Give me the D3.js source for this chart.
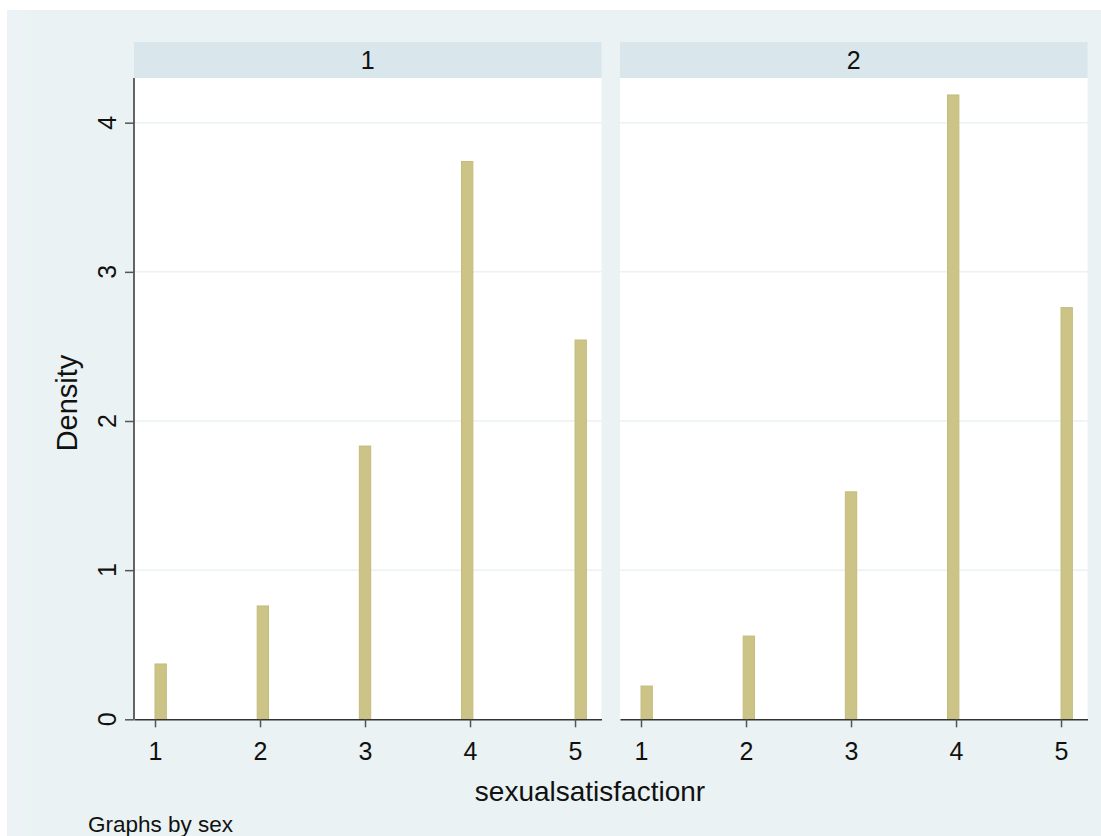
<!DOCTYPE html>
<html>
    <head>
        <meta charset="utf-8">
        <script src="https://d3js.org/d3.v7.min.js"></script>
        <style>
            body {
                margin: 0;
                background: #ffffff;
                font-family: "Liberation Sans", Arial, sans-serif;
            }
            .tick line {
                stroke: #555;
                stroke-width: 1.5;
            }
            .domain {
                stroke: #333;
                stroke-width: 1.5;
            }
            .lab {
                fill: #111;
            }
        </style>
    </head>
    <body>
        <script>
            // DATA //
            var panels = ["1", "2"];
            var xValues = [1, 2, 3, 4, 5];
            var binStart = [1.0, 1.973, 2.946, 3.919, 5.0];
            var binWidth = 0.108;
            var density1 = [0.371, 0.76, 1.832, 3.74, 2.543];
            var density2 = [0.223, 0.558, 1.525, 4.186, 2.76];
            var densities = [density1, density2];
            var yTicks = [0, 1, 2, 3, 4];
            var gridTicks = [1, 2, 3, 4];
            // END OF DATA //

            var W = 1101, H = 836;
            var panelLeft = [134, 620];
            var panelWidth = 467.5;
            var stripTop = 42, plotTop = 78, plotBottom = 719.3;

            var canvas = d3.select('body').append('svg')
                .attr('width', W)
                .attr('height', H);

            // outer background
            canvas.append('rect')
                .attr('x', 7).attr('y', 10)
                .attr('width', W - 7).attr('height', H - 10)
                .attr('fill', '#eaf2f3');
            canvas.append('rect')
                .attr('x', 7).attr('y', 10)
                .attr('width', 18).attr('height', H - 10)
                .attr('fill', '#ecf2f6');

            var y = d3.scaleLinear()
                .domain([0, 4.3])
                .range([plotBottom, plotBottom - 4.3 * 149.15]);

            panels.forEach(function(name, p) {
                var left = panelLeft[p];
                var x = d3.scaleLinear()
                    .domain([0.8, 5.252])
                    .range([left, left + panelWidth]);

                var g = canvas.append('g');

                // strip
                g.append('rect')
                    .attr('x', left).attr('y', stripTop)
                    .attr('width', panelWidth).attr('height', plotTop - stripTop)
                    .attr('fill', '#d9e6eb');
                g.append('text')
                    .attr('class', 'lab')
                    .attr('x', left + panelWidth / 2)
                    .attr('y', 69)
                    .attr('text-anchor', 'middle')
                    .attr('font-size', 25)
                    .text(name);

                // plot area
                g.append('rect')
                    .attr('x', left).attr('y', plotTop)
                    .attr('width', panelWidth).attr('height', plotBottom - plotTop)
                    .attr('fill', '#ffffff');

                // grid
                g.selectAll('.grid')
                    .data(gridTicks)
                    .enter()
                    .append('line')
                    .attr('class', 'grid')
                    .attr('x1', left).attr('x2', left + panelWidth)
                    .attr('y1', function(d) { return y(d); })
                    .attr('y2', function(d) { return y(d); })
                    .attr('stroke', '#eaf2f3')
                    .attr('stroke-width', 1.5);

                // bars
                g.selectAll('.bar')
                    .data(densities[p])
                    .enter()
                    .append('rect')
                    .attr('class', 'bar')
                    .attr('x', function(d, i) { return x(binStart[i]); })
                    .attr('width', function() { return x(binWidth) - x(0); })
                    .attr('y', function(d) { return y(d); })
                    .attr('height', function(d) { return y(0) - y(d); })
                    .attr('fill', '#ccc487')
                    .attr('stroke', '#c4bb7c')
                    .attr('stroke-width', 1);

                // x axis
                var xAxis = d3.axisBottom(x)
                    .tickValues(xValues)
                    .tickSizeInner(8)
                    .tickSizeOuter(0)
                    .tickPadding(15)
                    .tickFormat(d3.format('d'));
                var ax = g.append('g')
                    .attr('transform', 'translate(0,' + plotBottom + ')')
                    .call(xAxis);
                ax.selectAll('text')
                    .attr('font-size', 25)
                    .attr('font-family', '"Liberation Sans", Arial, sans-serif')
                    .attr('fill', '#111');

                // y axis only on first panel
                if (p === 0) {
                    var yAxis = d3.axisLeft(y)
                        .tickValues(yTicks)
                        .tickSizeInner(9)
                        .tickSizeOuter(0)
                        .tickFormat('');
                    var ay = g.append('g')
                        .attr('transform', 'translate(' + left + ',0)')
                        .call(yAxis);
                    ay.select('.domain')
                        .attr('d', 'M0,' + plotTop + 'V' + plotBottom);

                    g.selectAll('.ylab')
                        .data(yTicks)
                        .enter()
                        .append('text')
                        .attr('class', 'ylab lab')
                        .attr('transform', function(d) { return 'translate(116,' + y(d) + ') rotate(-90)'; })
                        .attr('text-anchor', 'middle')
                        .attr('font-size', 25)
                        .text(function(d) { return d; });
                }
            });

            // titles
            canvas.append('text')
                .attr('class', 'lab')
                .attr('transform', 'translate(77,403) rotate(-90)')
                .attr('text-anchor', 'middle')
                .attr('font-size', 29)
                .text('Density');

            canvas.append('text')
                .attr('class', 'lab')
                .attr('x', 590)
                .attr('y', 801)
                .attr('text-anchor', 'middle')
                .attr('font-size', 28)
                .text('sexualsatisfactionr');

            canvas.append('text')
                .attr('class', 'lab')
                .attr('x', 88)
                .attr('y', 832)
                .attr('font-size', 22.5)
                .text('Graphs by sex');
        </script>
    </body>
</html>
